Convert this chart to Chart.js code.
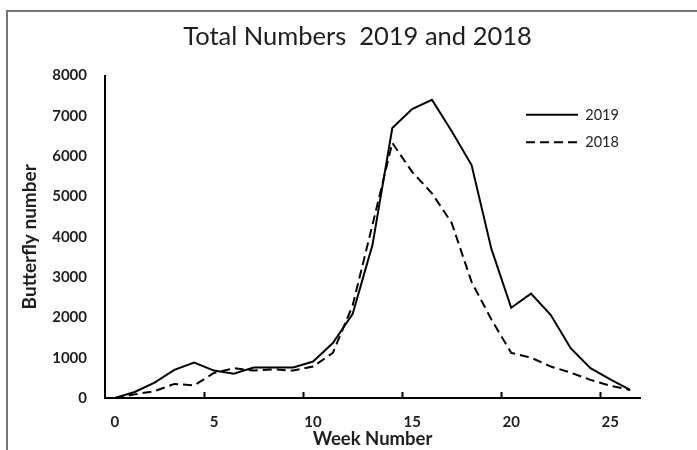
<!DOCTYPE html>
<html>
<head>
<meta charset="utf-8">
<script src="https://cdn.jsdelivr.net/npm/chart.js@4"></script>
<style>
  body { margin: 0; background: #fff; }
  #frame { position: absolute; left: 6px; top: 10px; width: 720px; height: 480px; border: 2px solid #767676; }
  #wrap { position: absolute; left: 0; top: 0; width: 697px; height: 450px; }
</style>
</head>
<body>
<div id="frame"></div>
<div id="wrap"><canvas id="chart"></canvas></div>
<script>
// week numbers on the x axis
var weeks = ['0','1','2','3','4','5','6','7','8','9','10','11','12','13','14','15','16','17','18','19','20','21','22','23','24','25','26'];

// butterfly counts per week
var counts2019 = [0, 150, 380, 700, 880, 680, 600, 755, 755, 755, 905, 1365, 2090, 3800, 6700, 7170, 7400, 6620, 5780, 3700, 2240, 2590, 2060, 1235, 740, 460, 200];
var counts2018 = [0, 90, 170, 350, 315, 620, 740, 680, 710, 680, 780, 1120, 2300, 4300, 6330, 5610, 5080, 4340, 2880, 1950, 1120, 1000, 780, 630, 450, 305, 200];

var yTicks = { min: 0, max: 8000, step: 1000 };

Chart.defaults.font.family = 'Lato, "Open Sans", sans-serif';
Chart.defaults.color = '#1e1e1e';

// move the legend into the top right of the plot
var legendSpot = {
    id: 'legendSpot',
    beforeDraw: function(chart) {
        var lg = chart.legend;
        lg.left = chart.chartArea.right - 127;
        lg.top = chart.chartArea.top + 19;
    }
};

var ctx = document.getElementById('chart');

var config = {
    type: 'line',
    data: {
        labels: weeks,
        datasets: [{
            label: '2019',
            data: counts2019,
            borderColor: '#000',
            backgroundColor: '#000',
            borderWidth: 2,
            pointRadius: 0,
            pointHoverRadius: 0,
            tension: 0,
            fill: false
        }, {
            label: '2018',
            data: counts2018,
            borderColor: '#000',
            backgroundColor: '#000',
            borderWidth: 2,
            borderDash: [9, 5],
            pointRadius: 0,
            pointHoverRadius: 0,
            tension: 0,
            fill: false
        }]
    },
    options: {
        responsive: true,
        maintainAspectRatio: false,
        animation: false,
        layout: { padding: { left: 18, right: 0, top: 0, bottom: 0 } },
        plugins: {
            title: {
                display: true,
                text: 'Total Numbers  2019 and 2018',
                font: { size: 25.5, weight: 'normal' },
                color: '#1e1e1e',
                padding: { top: 21, bottom: 24 }
            },
            legend: {
                position: 'chartArea',
                align: 'start',
                labels: {
                    usePointStyle: true,
                    pointStyle: 'line',
                    pointStyleWidth: 52,
                    padding: 13,
                    font: { size: 14.5 },
                    color: '#1e1e1e',
                    generateLabels: function(chart) {
                        var items = Chart.defaults.plugins.legend.labels.generateLabels(chart);
                        items.forEach(function(it, i) {
                            var ds = chart.data.datasets[i];
                            it.lineDash = ds.borderDash || [];
                            it.lineWidth = ds.borderWidth;
                            it.strokeStyle = ds.borderColor;
                        });
                        return items;
                    }
                }
            },
            tooltip: { enabled: false }
        },
        scales: {
            x: {
                type: 'category',
                offset: true,
                grid: {
                    display: true,
                    offset: true,
                    drawOnChartArea: false,
                    drawTicks: true,
                    tickLength: -6,
                    tickWidth: 2,
                    tickColor: function(c) {
                        return (c.index % 5 === 0 && c.index > 0) ? '#000' : 'rgba(0,0,0,0)';
                    }
                },
                border: { display: true, color: '#000', width: 2 },
                ticks: {
                    autoSkip: false,
                    maxRotation: 0,
                    padding: 21,
                    font: { size: 15, weight: 'bold' },
                    color: '#1e1e1e',
                    callback: function(value, index) {
                        return index % 5 === 0 ? weeks[index] : '';
                    }
                },
                title: {
                    display: true,
                    text: 'Week Number',
                    font: { size: 18.5, weight: 'bold' },
                    color: '#1e1e1e',
                    padding: { top: 0, bottom: 0 }
                },
                afterFit: function(s) { s.height = 52; }
            },
            y: {
                min: yTicks.min,
                max: yTicks.max,
                grid: { display: false, drawTicks: false },
                border: { display: true, color: '#000', width: 2 },
                ticks: {
                    stepSize: yTicks.step,
                    padding: 18,
                    font: { size: 15, weight: 'bold' },
                    color: '#1e1e1e',
                    callback: function(value) { return String(value); }
                },
                title: {
                    display: true,
                    text: 'Butterfly number',
                    font: { size: 19, weight: 'bold' },
                    color: '#1e1e1e',
                    padding: { top: 0, bottom: 0 }
                },
                afterFit: function(s) { s.width = 87; }
            },
            yRight: {
                position: 'right',
                display: true,
                grid: { display: false },
                border: { display: false },
                ticks: { display: false },
                afterFit: function(s) { s.width = 57; }
            }
        }
    },
    plugins: [legendSpot]
};

var chart = new Chart(ctx, config);
</script>
</body>
</html>
